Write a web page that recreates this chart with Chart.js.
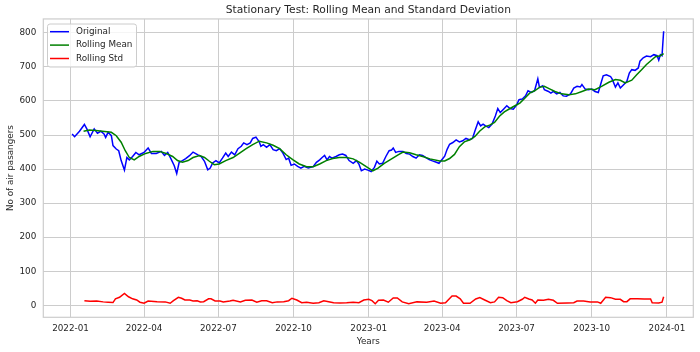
<!DOCTYPE html>
<html>
<head>
<meta charset="utf-8">
<title>Stationary Test</title>
<script src="https://cdn.jsdelivr.net/npm/chart.js@4.4.1/dist/chart.umd.min.js"></script>
<style>
  body { margin: 0; background: #fff; }
  #wrap { width: 700px; height: 352px; }
</style>
</head>
<body>
<div id="wrap"><canvas id="rollingChart"></canvas></div>
<script>
// x values are days since 2022-01-01
const tickDays = [0, 90, 181, 273, 365, 455, 546, 638, 730];
const tickLabels = ['2022-01', '2022-04', '2022-07', '2022-10', '2023-01', '2023-04', '2023-07', '2023-10', '2024-01'];
const yTicks = [0, 100, 200, 300, 400, 500, 600, 700, 800];

const origDays = [2, 5, 11, 17, 20, 24, 29, 33, 37, 41, 43, 46, 50, 52, 56, 59, 62, 66, 69, 72, 76, 80, 84, 90, 95, 99,
  105, 111, 115, 119, 123, 127, 130, 133, 137, 141, 146, 150, 156, 160, 164, 168, 171, 174, 178, 182, 186, 190, 193, 197,
  201, 205, 209, 212, 216, 220, 223, 227, 231, 233, 236, 240, 244, 248, 252, 256, 260, 264, 267, 270, 274, 278, 282, 286,
  291, 297, 301, 305, 308, 311, 314, 317, 320, 325, 329, 333, 337, 341, 346, 350, 353, 356, 360, 364, 368, 372, 375, 378,
  382, 386, 390, 393, 395, 398, 402, 407, 411, 415, 419, 423, 427, 431, 435, 439, 443, 447, 451, 455, 458, 461, 464, 468,
  472, 476, 480, 484, 488, 492, 495, 499, 502, 505, 508, 512, 516, 520, 523, 526, 530, 534, 538, 542, 546, 549, 553, 557,
  560, 564, 568, 572, 574, 578, 580, 585, 588, 591, 595, 599, 603, 607, 612, 616, 620, 624, 626, 630, 634, 638, 642, 646,
  650, 652, 656, 661, 663, 667, 670, 673, 677, 681, 684, 687, 691, 695, 697, 701, 705, 710, 714, 718, 720, 722, 724, 726];
const origValues = [503, 495, 511, 531, 518, 495, 518, 505, 511, 503, 493, 508, 498, 469, 459, 454, 425, 397, 434, 427, 437, 449, 442, 449, 462, 446,
  446, 452, 440, 449, 430, 410, 387, 420, 425, 431, 440, 450, 442, 437, 423, 398, 403, 418, 425, 418, 432, 447, 437, 450,
  442, 460, 467, 477, 472, 477, 490, 494, 480, 467, 472, 464, 472, 457, 454, 460, 447, 428, 432, 411, 415, 408, 403, 408,
  403, 407, 420, 427, 434, 440, 427, 437, 432, 437, 442, 444, 440, 425, 417, 425, 415, 395, 400, 397, 393, 405, 423, 415,
  417, 437, 454, 456, 462, 449, 452, 452, 446, 444, 437, 432, 442, 440, 434, 428, 424, 421, 417, 429, 438, 458, 473, 478,
  486, 480, 483, 490, 486, 490, 512, 539, 527, 532, 527, 522, 532, 556, 578, 566, 576, 586, 578, 576, 588, 604, 606, 615,
  630, 625, 630, 665, 640, 645, 633, 628, 623, 628, 621, 625, 615, 614, 621, 638, 643, 641, 648, 635, 633, 635, 628, 625,
  658, 674, 677, 672, 664, 641, 653, 638, 648, 658, 682, 692, 690, 697, 717, 727, 732, 730, 736, 733, 720, 736, 733, 805];

const meanDays = [16, 23, 31, 39, 50, 56, 62, 67, 72, 78, 84, 92, 101, 109, 117, 125, 131, 137, 144, 150, 158, 164, 170, 176,
  182, 190, 199, 207, 215, 223, 231, 240, 248, 256, 264, 272, 280, 289, 297, 305, 313, 321, 329, 338, 346, 354, 362, 370,
  376, 384, 393, 401, 407, 415, 423, 431, 440, 452, 458, 464, 470, 476, 482, 489, 495, 501, 507, 513, 519, 525, 531, 538,
  544, 550, 556, 562, 568, 574, 580, 587, 593, 601, 610, 618, 626, 634, 642, 650, 659, 667, 673, 679, 687, 693, 699, 705,
  712, 716, 722, 726];
const meanValues = [511, 515, 513, 511, 508, 498, 479, 454, 434, 427, 437, 446, 452, 452, 446, 437, 425, 420, 425, 434, 440, 434, 423, 413,
  415, 425, 434, 447, 460, 472, 482, 477, 470, 460, 442, 428, 415, 407, 407, 415, 425, 431, 434, 434, 430, 420, 407, 395,
  402, 417, 430, 442, 450, 448, 442, 437, 430, 424, 424, 431, 443, 466, 480, 486, 496, 512, 524, 529, 537, 555, 568, 578,
  586, 594, 608, 623, 630, 640, 643, 635, 628, 621, 618, 621, 628, 635, 633, 643, 655, 663, 661, 653, 661, 677, 692, 707,
  722, 730, 733, 739];

const stdDays = [17, 24, 32, 40, 46, 52, 55, 60, 66, 71, 76, 81, 85, 90, 95, 106, 116, 122, 126, 132, 136, 140, 146, 150, 155,
  159, 163, 169, 172, 177, 183, 187, 195, 199, 208, 214, 222, 228, 234, 240, 247, 253, 261, 267, 271, 277, 283, 289, 297,
  304, 310, 316, 322, 330, 338, 346, 353, 359, 365, 369, 373, 377, 383, 389, 395, 400, 406, 414, 424, 436, 445, 453, 459,
  467, 472, 477, 481, 489, 496, 501, 507, 514, 519, 524, 529, 534, 539, 547, 553, 556, 561, 565, 569, 572, 579, 585, 591,
  596, 608, 616, 620, 628, 636, 645, 649, 655, 661, 667, 673, 677, 681, 685, 694, 702, 710, 712, 720, 724, 726];
const stdValues = [13.5, 12, 12.6, 10, 9, 8, 19, 23.5, 35, 25, 19, 15.5, 9, 6, 12.6, 10.6, 10, 6, 13.5, 23.5, 20.6, 15.5, 15.5, 12.6, 13.5,
  10, 10.6, 19, 19, 12.6, 12.6, 10, 12.6, 14.7, 10, 14.7, 15.5, 9, 13.5, 13.5, 7.6, 10, 10.6, 13.5, 20.6, 15.5, 7.6, 9, 6,
  7.6, 13.5, 10.6, 7.6, 6.8, 7.6, 9, 7.6, 15.5, 17.6, 13.5, 4.7, 14.7, 15.5, 9, 21.5, 21.5, 10, 4.7, 10, 9, 12.6, 6, 7.6,
  27, 27, 19, 6, 6, 18.5, 22.4, 15.5, 7.6, 10, 23.5, 22.4, 13.5, 7.6, 10.6, 17.6, 23.5, 18.5, 15.5, 6, 15.5, 14.7, 17.6, 14.7,
  6, 6.8, 7.6, 12.6, 12.6, 10, 10, 6, 23.5, 22.4, 17.6, 17.6, 10.6, 10.6, 19, 19, 18.5, 18.5, 7.6, 6.8, 9, 25];

const FONT = 'DejaVu Sans';
const TEXT = '#262626';
const GRID = '#cccccc';

const toPoints = (days, values) => days.map((d, i) => ({ x: d, y: values[i] }));

// matplotlib-style frame around the plot area
const framePlugin = {
  id: 'frame',
  afterDatasetsDraw(chart) {
    const { ctx, chartArea: a } = chart;
    ctx.save();
    ctx.strokeStyle = GRID;
    ctx.lineWidth = 1.2;
    ctx.strokeRect(a.left, a.top, a.right - a.left, a.bottom - a.top);
    ctx.restore();
  }
};

// legend box in the upper left corner of the plot
const boxLegend = {
  id: 'boxLegend',
  afterDraw(chart) {
    const { ctx } = chart;
    const x = 47.5, y = 24, w = 89, h = 43;
    ctx.save();
    ctx.beginPath();
    ctx.roundRect(x, y, w, h, 2.5);
    ctx.fillStyle = 'rgba(255,255,255,0.8)';
    ctx.fill();
    ctx.strokeStyle = GRID;
    ctx.lineWidth = 1;
    ctx.stroke();
    ctx.font = '8.8px "' + FONT + '"';
    ctx.textBaseline = 'middle';
    chart.data.datasets.forEach((ds, i) => {
      const rowY = 31.7 + i * 13.4;
      ctx.strokeStyle = ds.borderColor;
      ctx.lineWidth = 1.5;
      ctx.beginPath();
      ctx.moveTo(50, rowY);
      ctx.lineTo(69, rowY);
      ctx.stroke();
      ctx.fillStyle = TEXT;
      ctx.fillText(ds.label, 76, rowY);
    });
    ctx.restore();
  }
};

new Chart(document.getElementById('rollingChart'), {
  type: 'line',
  data: {
    datasets: [
      { label: 'Original', data: toPoints(origDays, origValues), borderColor: 'blue', order: 3 },
      { label: 'Rolling Mean', data: toPoints(meanDays, meanValues), borderColor: 'green', order: 2 },
      { label: 'Rolling Std', data: toPoints(stdDays, stdValues), borderColor: 'red', order: 1 }
    ]
  },
  options: {
    responsive: true,
    maintainAspectRatio: false,
    animation: false,
    layout: { padding: { left: 0, right: 6.7, top: 0, bottom: 0 } },
    elements: {
      point: { radius: 0 },
      line: { borderWidth: 1.5, tension: 0, fill: false }
    },
    plugins: {
      legend: { display: false },
      tooltip: { enabled: false },
      title: {
        display: true,
        fullSize: false,
        text: 'Stationary Test: Rolling Mean and Standard Deviation',
        color: TEXT,
        font: { family: FONT, size: 10.7, weight: 'normal' },
        padding: { top: 4.1, bottom: 2 }
      }
    },
    scales: {
      x: {
        type: 'linear',
        min: -33.3,
        max: 762.3,
        afterBuildTicks: (scale) => { scale.ticks = tickDays.map(v => ({ value: v })); },
        afterFit: (scale) => { scale.height = 34.7; },
        ticks: {
          autoSkip: false,
          maxRotation: 0,
          padding: 6,
          color: TEXT,
          font: { family: FONT, size: 8.8 },
          callback: (v) => tickLabels[tickDays.indexOf(v)]
        },
        grid: { color: GRID, lineWidth: 1, drawTicks: false },
        border: { display: false },
        title: {
          display: true,
          text: 'Years',
          color: TEXT,
          font: { family: FONT, size: 8.8 },
          padding: { top: 0, bottom: 5.4 }
        }
      },
      y: {
        type: 'linear',
        min: -35.3,
        max: 841,
        afterBuildTicks: (scale) => { scale.ticks = yTicks.map(v => ({ value: v })); },
        afterFit: (scale) => { scale.width = 43.3; },
        ticks: {
          padding: 7,
          color: TEXT,
          font: { family: FONT, size: 8.8 }
        },
        grid: { color: GRID, lineWidth: 1, drawTicks: false },
        border: { display: false },
        title: {
          display: true,
          text: 'No of air pasangers',
          color: TEXT,
          font: { family: FONT, size: 8.8 },
          padding: { top: 5.4, bottom: 0 }
        }
      }
    }
  },
  plugins: [framePlugin, boxLegend]
});
</script>
</body>
</html>
